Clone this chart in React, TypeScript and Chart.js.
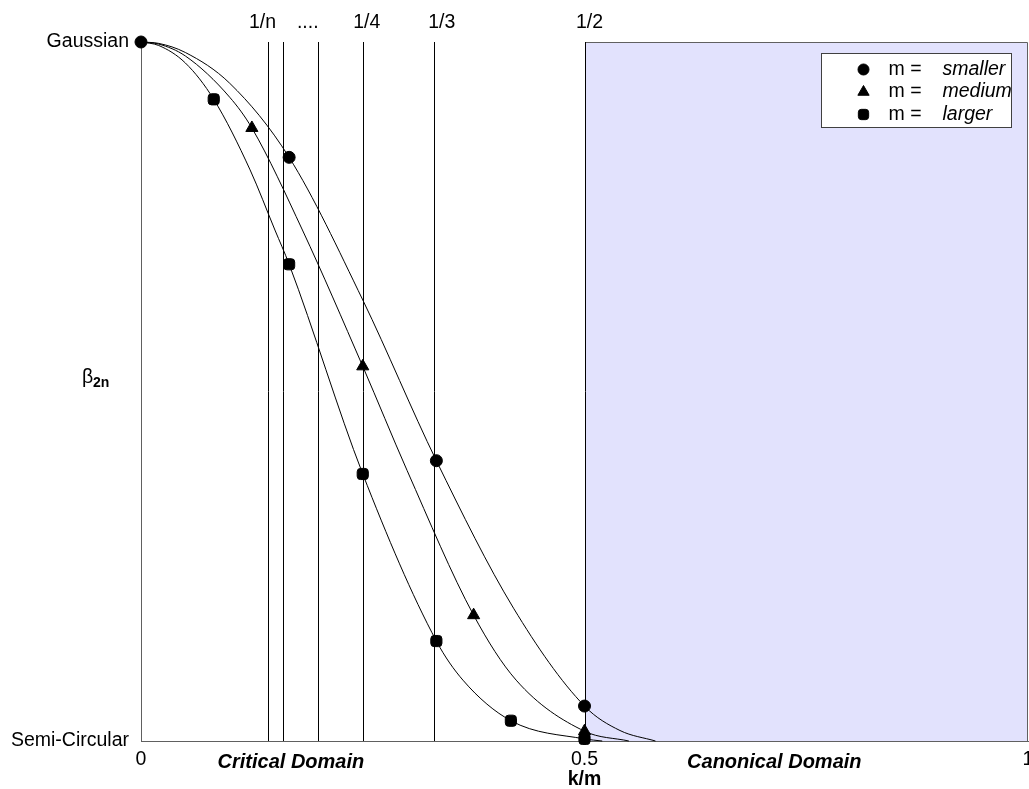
import React, { useEffect, useRef } from 'react';
import { Chart, registerables } from 'chart.js';
import { drawPoint } from 'chart.js/helpers';

Chart.register(...registerables);

const FONT = "'Liberation Sans', Arial, sans-serif";

// ---- smooth curves ----
const smallerCurveX = [0, 0.02, 0.05, 0.1, 0.167, 0.25, 0.333, 0.42, 0.5, 0.54, 0.58];
const smallerCurveY = [1, 0.998, 0.985, 0.941, 0.835, 0.631, 0.401, 0.19, 0.05, 0.015, 0];

const mediumCurveX = [0, 0.02, 0.05, 0.1, 0.125, 0.182, 0.25, 0.3, 0.375, 0.423, 0.5, 0.55];
const mediumCurveY = [1, 0.997, 0.98, 0.921, 0.877, 0.731, 0.536, 0.387, 0.18, 0.087, 0.014, 0];

const largerCurveX = [0, 0.02, 0.05, 0.082, 0.123, 0.151, 0.167, 0.25, 0.333, 0.363, 0.417, 0.5, 0.52];
const largerCurveY = [1, 0.995, 0.97, 0.918, 0.817, 0.731, 0.682, 0.382, 0.143, 0.087, 0.029, 0.003, 0];

// ---- markers ----
const smallerX = [0, 0.167, 0.333, 0.5];
const smallerY = [1, 0.835, 0.401, 0.05];
const mediumX = [0.125, 0.25, 0.375, 0.5];
const mediumY = [0.877, 0.536, 0.18, 0.014];
const largerX = [0.082, 0.167, 0.25, 0.333, 0.417, 0.5];
const largerY = [0.918, 0.682, 0.382, 0.143, 0.029, 0.003];

const seriesNames = ['smaller', 'medium', 'larger'];

// ---- axes / annotations ----
const yTickValues = [0, 1];
const yTickLabels = ['Semi-Circular', 'Gaussian'];
const xTickValues = [0, 0.5, 1];
const xTickLabels = ['0', '0.5', '1'];
const topTickValues = [0.137, 0.188, 0.2545, 0.339, 0.5056];
const topTickLabels = ['1/n', '....', '1/4', '1/3', '1/2'];
const dividerX = [0.143, 0.16, 0.2, 0.25, 0.33, 0.5];
const canonicalRange = [0.5, 1];
const domainLabels = ['Critical Domain', 'Canonical Domain'];
const domainLabelX = [0.169, 0.714];
const xTitle = 'k/m';

const pts = (xs: number[], ys: number[]) => xs.map((x, i) => ({ x, y: ys[i] }));

const backgroundPlugin = {
  id: 'canonicalShade',
  beforeDraw(chart: any) {
    const { ctx, scales } = chart;
    const x = scales.x, y = scales.y;
    const l = Math.round(x.getPixelForValue(canonicalRange[0])) + 0.5;
    const r = Math.round(x.getPixelForValue(canonicalRange[1])) - 0.5;
    const t = Math.round(y.getPixelForValue(1)) + 0.5;
    const b = Math.round(y.getPixelForValue(0)) + 0.5;
    ctx.save();
    ctx.fillStyle = 'rgb(226,226,253)';
    ctx.fillRect(l, t, r - l, b - t);
    ctx.strokeStyle = '#606060';
    ctx.lineWidth = 1;
    ctx.beginPath();
    ctx.moveTo(l, t);
    ctx.lineTo(r, t);
    ctx.lineTo(r, b);
    ctx.stroke();
    ctx.restore();
  },
  beforeDatasetsDraw(chart: any) {
    const { ctx, scales } = chart;
    const x = scales.x, y = scales.y;
    const t = y.getPixelForValue(1);
    const b = y.getPixelForValue(0);
    ctx.save();
    ctx.strokeStyle = '#000';
    ctx.lineWidth = 1;
    dividerX.forEach((v) => {
      const px = Math.round(x.getPixelForValue(v)) + 0.5;
      ctx.beginPath();
      ctx.moveTo(px, t);
      ctx.lineTo(px, b);
      ctx.stroke();
    });
    ctx.restore();
  },
  afterDraw(chart: any) {
    const { ctx, scales, chartArea } = chart;
    const x = scales.x, y = scales.y;
    ctx.save();
    // domain labels
    ctx.fillStyle = '#000';
    ctx.font = `italic bold 20px ${FONT}`;
    ctx.textAlign = 'center';
    ctx.textBaseline = 'middle';
    domainLabels.forEach((s, i) => {
      ctx.fillText(s, x.getPixelForValue(domainLabelX[i]), chartArea.bottom + 21);
    });
    // beta_2n
    const by = y.getPixelForValue(0.52);
    ctx.textAlign = 'left';
    ctx.font = `19.5px ${FONT}`;
    ctx.fillText('β', 82, by);
    ctx.font = `bold 14px ${FONT}`;
    ctx.fillText('2n', 93, by + 6);
    // legend
    const bw = 190, bh = 74;
    const bl = Math.round(chartArea.right - 207) + 0.5;
    const bt = Math.round(chartArea.top + 11) + 0.5;
    ctx.fillStyle = '#fff';
    ctx.fillRect(bl, bt, bw, bh);
    ctx.strokeStyle = '#404040';
    ctx.lineWidth = 1;
    ctx.strokeRect(bl, bt, bw, bh);
    const markerByName: any = {
      smaller: chart.data.datasets[5],
      medium: chart.data.datasets[4],
      larger: chart.data.datasets[3],
    };
    seriesNames.forEach((name, i) => {
      const ry = bt + 16 + i * 22.5;
      const ds: any = markerByName[name];
      ctx.fillStyle = '#000';
      ctx.strokeStyle = '#000';
      drawPoint(ctx, { pointStyle: ds.pointStyle, radius: ds.pointRadius - 0.5, rotation: 0, borderWidth: 1 }, bl + 42, ry);
      ctx.fillStyle = '#000';
      ctx.textAlign = 'left';
      ctx.textBaseline = 'middle';
      ctx.font = `19.5px ${FONT}`;
      ctx.fillText('m =', bl + 67, ry);
      ctx.font = `italic 19.5px ${FONT}`;
      ctx.fillText(name, bl + 121, ry);
    });
    ctx.restore();
  },
};

export default function App() {
  const ref = useRef<HTMLCanvasElement>(null);
  useEffect(() => {
    if (!ref.current) return;
    const curve = (xs: number[], ys: number[]) => ({
      data: pts(xs, ys),
      showLine: true,
      borderColor: '#000',
      borderWidth: 1,
      pointRadius: 0,
      cubicInterpolationMode: 'monotone' as const,
      clip: false as any,
    });
    const marker = (xs: number[], ys: number[], style: string, r: number) => ({
      data: pts(xs, ys),
      showLine: false,
      pointStyle: style,
      pointRadius: r,
      pointBackgroundColor: '#000',
      pointBorderColor: '#000',
      pointBorderWidth: 1,
      backgroundColor: '#000',
      borderColor: '#000',
      clip: false as any,
    });
    const chart = new Chart(ref.current, {
      type: 'scatter',
      data: {
        datasets: [
          curve(smallerCurveX, smallerCurveY),
          curve(mediumCurveX, mediumCurveY),
          curve(largerCurveX, largerCurveY),
          marker(largerX, largerY, 'rectRounded', 6.5),
          marker(mediumX, mediumY, 'triangle', 7),
          marker(smallerX, smallerY, 'circle', 6),
        ] as any,
      },
      options: {
        responsive: false,
        animation: false,
        devicePixelRatio: 1,
        layout: { padding: { left: 0, top: 0, right: 17, bottom: 0 } },
        plugins: { legend: { display: false }, tooltip: { enabled: false } },
        scales: {
          x: {
            type: 'linear',
            position: 'bottom',
            min: 0,
            max: 1,
            grid: { display: false, drawTicks: false },
            border: { display: true, color: '#606060', width: 1 },
            afterBuildTicks: (s: any) => { s.ticks = xTickValues.map((v) => ({ value: v })); },
            afterFit: (s: any) => { s.height = 48; },
            ticks: {
              autoSkip: false,
              maxRotation: 0,
              padding: 7,
              color: '#000',
              font: { family: FONT, size: 19.5 },
              callback: (_v: any, i: number) => xTickLabels[i],
            },
            title: {
              display: true,
              text: xTitle,
              color: '#000',
              font: { family: FONT, size: 19.5, weight: 'bold', lineHeight: 1 },
              padding: { top: 0, bottom: 0 },
            },
          },
          x2: {
            type: 'linear',
            position: 'top',
            min: 0,
            max: 1,
            grid: { display: false, drawTicks: false },
            border: { display: false },
            afterBuildTicks: (s: any) => { s.ticks = topTickValues.map((v) => ({ value: v })); },
            afterFit: (s: any) => { s.height = 42; },
            ticks: {
              autoSkip: false,
              maxRotation: 0,
              padding: 8,
              color: '#000',
              font: { family: FONT, size: 19.5 },
              callback: (_v: any, i: number) => topTickLabels[i],
            },
          },
          y: {
            type: 'linear',
            position: 'left',
            min: 0,
            max: 1,
            grid: { display: false, drawTicks: false },
            border: { display: true, color: '#606060', width: 1 },
            afterBuildTicks: (s: any) => { s.ticks = yTickValues.map((v) => ({ value: v })); },
            afterFit: (s: any) => { s.width = 141; },
            ticks: {
              autoSkip: false,
              padding: 12,
              color: '#000',
              font: { family: FONT, size: 19.5 },
              callback: (_v: any, i: number) => yTickLabels[i],
            },
          },
        },
      } as any,
      plugins: [backgroundPlugin],
    });
    return () => chart.destroy();
  }, []);
  return (
    <div style={{ position: 'absolute', left: 0, top: 0, width: 1029, height: 789, overflow: 'hidden', background: '#fff' }}>
      <canvas ref={ref} width={1045} height={789} style={{ display: 'block', width: 1045, height: 789 }} />
    </div>
  );
}
